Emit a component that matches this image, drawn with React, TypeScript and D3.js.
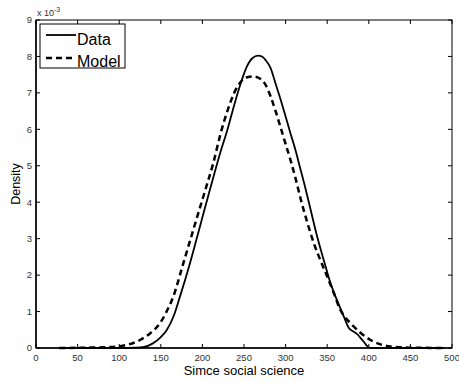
import React from "react";
import * as d3 from "d3";

const dataX = [28, 100, 120, 130, 140, 150, 157, 165, 173, 185, 197, 209, 222, 230, 238, 246, 253, 260, 267, 272, 276, 282, 288, 294, 300, 306, 312, 317, 322, 330, 338, 346, 354, 362, 370, 376, 381, 386, 390, 394, 398, 402, 490];
const dataY = [0, 0, 0.01, 0.03, 0.12, 0.3, 0.49, 0.85, 1.41, 2.32, 3.33, 4.34, 5.4, 5.98, 6.65, 7.26, 7.7, 7.95, 8.02, 7.99, 7.9, 7.68, 7.25, 6.82, 6.35, 5.88, 5.42, 4.98, 4.55, 3.8, 3.05, 2.4, 1.78, 1.3, 0.86, 0.55, 0.46, 0.38, 0.28, 0.17, 0.05, 0, 0];
const modelX = [28, 60, 80, 101, 125, 137, 149, 157, 165, 177, 189, 201, 213, 223, 230, 238, 246, 254, 262, 270, 276, 282, 288, 294, 300, 306, 312, 318, 326, 334, 342, 350, 358, 366, 372, 378, 390, 402, 414, 426, 450, 490];
const modelY = [0, 0.01, 0.02, 0.05, 0.22, 0.4, 0.68, 1.0, 1.41, 2.32, 3.24, 4.15, 5.07, 5.98, 6.5, 6.99, 7.3, 7.43, 7.45, 7.38, 7.22, 6.9, 6.5, 6.05, 5.6, 5.15, 4.65, 4.1, 3.45, 2.87, 2.4, 1.96, 1.5, 1.04, 0.83, 0.68, 0.42, 0.22, 0.1, 0.04, 0.01, 0];
const xTicks = [0, 50, 100, 150, 200, 250, 300, 350, 400, 450, 500];
const yTicks = [0, 1, 2, 3, 4, 5, 6, 7, 8, 9];
const legendLabels = ["Data", "Model"];

const W = 459, H = 383;
const L = 36, R = 452, T = 20, B = 348;
const FONT = "Liberation Sans, Arial, Helvetica, sans-serif";

export default function App() {
  const x = d3.scaleLinear().domain([0, 500]).range([L, R]);
  const y = d3.scaleLinear().domain([0, 9]).range([B, T]);
  const line = d3.line<[number, number]>().x(d => x(d[0])).y(d => y(d[1])).curve(d3.curveMonotoneX);
  const dPts = dataX.map((v, i) => [v, dataY[i]] as [number, number]);
  const mPts = modelX.map((v, i) => [v, modelY[i]] as [number, number]);
  const tk = 4;
  return (
    <svg width={W} height={H} style={{ position: "absolute", left: 0, top: 0, background: "#fff" }} fontFamily={FONT}>
      <rect x={0} y={0} width={W} height={H} fill="#fff" />
      <path d={line(mPts) || ""} fill="none" stroke="#000" strokeWidth={2.5} strokeDasharray="6,4" />
      <path d={line(dPts) || ""} fill="none" stroke="#000" strokeWidth={1.8} />
      <rect x={L} y={T} width={R - L} height={B - T} fill="none" stroke="#000" strokeWidth={1} />
      <line x1={L} y1={T} x2={L} y2={B} stroke="#000" strokeWidth={1.5} />
      <line x1={L} y1={B} x2={R} y2={B} stroke="#000" strokeWidth={1.5} />
      {xTicks.map(t => (
        <g key={"x" + t}>
          <line x1={x(t)} x2={x(t)} y1={B} y2={B - tk} stroke="#000" strokeWidth={1} />
          <line x1={x(t)} x2={x(t)} y1={T} y2={T + tk} stroke="#000" strokeWidth={1} />
          <text x={x(t)} y={361} fontSize={9.5} textAnchor="middle" fill="#333">{t}</text>
        </g>
      ))}
      {yTicks.map(t => (
        <g key={"y" + t}>
          <line x1={L} x2={L + tk} y1={y(t)} y2={y(t)} stroke="#000" strokeWidth={1} />
          <line x1={R} x2={R - tk} y1={y(t)} y2={y(t)} stroke="#000" strokeWidth={1} />
          <text x={32} y={y(t) + 3.3} fontSize={9.5} textAnchor="end" fill="#333">{t}</text>
        </g>
      ))}
      <text x={37} y={16} fontSize={9} fill="#333">x 10<tspan dy={-4} fontSize={7}>-3</tspan></text>
      <text x={(L + R) / 2} y={375} fontSize={13} textAnchor="middle" fill="#000">Simce social science</text>
      <text transform={`translate(20,${(T + B) / 2}) rotate(-90)`} fontSize={12.5} textAnchor="middle" fill="#000">Density</text>
      <rect x={40} y={24} width={85} height={44} fill="#fff" stroke="#000" strokeWidth={1} />
      <line x1={46} x2={76} y1={35} y2={35} stroke="#000" strokeWidth={1.8} />
      <line x1={46} x2={76} y1={58} y2={58} stroke="#000" strokeWidth={2.5} strokeDasharray="6,4" />
      <text x={77} y={45} fontSize={16} fill="#000">{legendLabels[0]}</text>
      <text x={77} y={66.5} fontSize={16} fill="#000">{legendLabels[1]}</text>
    </svg>
  );
}
